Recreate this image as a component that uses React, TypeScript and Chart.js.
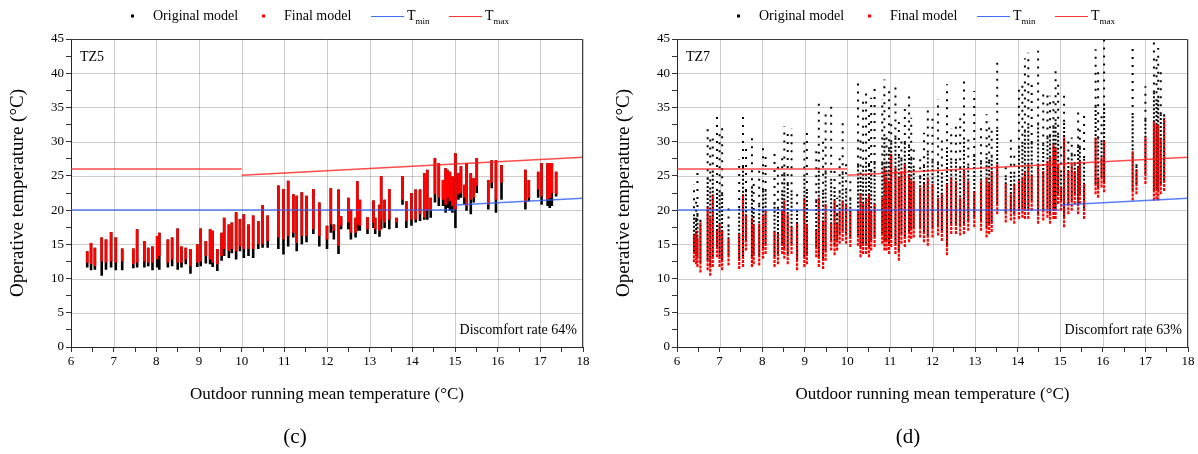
import React, { useEffect, useRef } from 'react';
import { Chart, registerables } from 'chart.js';

Chart.register(...registerables);

const FONT = '"Liberation Serif", "Times New Roman", serif';

// ---------- axes ----------
const X_TICKS = [6, 7, 8, 9, 10, 11, 12, 13, 14, 15, 16, 17, 18];
const Y_TICKS = [0, 5, 10, 15, 20, 25, 30, 35, 40, 45];

// ---------- comfort limits ----------
const TMAX_X = [6, 10, 10, 10, 18];
const TMAX_Y = [26, 26, null, 25.1, 27.74];
const TMIN_X = [6, 15, 15, 15, 18];
const TMIN_Y = [20, 20, null, 20.75, 21.74];

// ---------- TZ5 (c) : columns of hourly operative temperature ----------
const TZ5_X = [6.38, 6.47, 6.56, 6.72, 6.82, 6.94, 7.05, 7.2, 7.46, 7.55, 7.72, 7.81, 7.91, 8.02, 8.07, 8.27, 8.37, 8.5, 8.59, 8.69, 8.8, 8.96, 9.04, 9.16, 9.26, 9.32, 9.43, 9.53, 9.59, 9.7, 9.77, 9.87, 9.96, 10.05, 10.16, 10.27, 10.39, 10.49, 10.61, 10.86, 10.98, 11.09, 11.21, 11.29, 11.41, 11.52, 11.68, 11.82, 12.0, 12.09, 12.16, 12.27, 12.33, 12.5, 12.56, 12.67, 12.71, 12.77, 12.95, 13.09, 13.13, 13.23, 13.27, 13.35, 13.46, 13.63, 13.77, 13.86, 13.98, 14.08, 14.18, 14.28, 14.35, 14.43, 14.53, 14.62, 14.72, 14.78, 14.82, 14.88, 14.94, 15.01, 15.08, 15.14, 15.22, 15.27, 15.37, 15.44, 15.51, 15.78, 15.86, 15.96, 16.09, 16.65, 16.73, 16.95, 17.03, 17.17, 17.22, 17.27, 17.37];
const TZ5_FINAL_HI = [14.0, 15.2, 14.5, 16.0, 15.7, 16.8, 16.0, 14.4, 14.4, 17.2, 15.5, 14.5, 14.7, 16.2, 16.7, 15.7, 16.0, 17.3, 14.7, 14.5, 14.3, 15.0, 17.3, 15.5, 17.2, 17.0, 14.3, 16.7, 18.9, 17.9, 18.2, 19.7, 18.7, 19.4, 17.9, 19.2, 18.4, 20.7, 19.2, 23.6, 23.1, 24.3, 22.3, 22.1, 22.6, 22.1, 23.1, 21.1, 17.7, 23.2, 17.9, 23.0, 19.1, 21.8, 20.1, 18.9, 24.2, 21.5, 19.0, 21.4, 18.9, 20.8, 25.0, 21.5, 23.1, 18.9, 25.0, 21.3, 22.5, 23.0, 23.0, 25.4, 25.9, 21.8, 27.6, 26.9, 24.4, 26.1, 25.9, 25.6, 24.9, 28.3, 25.4, 26.4, 23.7, 26.9, 25.4, 24.7, 27.6, 24.4, 27.3, 27.3, 26.6, 25.9, 24.4, 25.6, 26.9, 26.9, 26.9, 26.9, 25.6];
const TZ5_FINAL_LO = [12.3, 12.1, 11.8, 12.5, 12.3, 12.5, 12.3, 12.5, 12.1, 12.3, 12.5, 12.3, 12.3, 12.8, 13.3, 12.3, 12.8, 12.3, 12.3, 12.8, 11.8, 12.3, 12.5, 13.3, 12.8, 12.3, 12.1, 13.3, 14.3, 14.0, 14.3, 14.0, 14.7, 14.3, 14.3, 14.3, 15.0, 15.0, 15.5, 16.0, 15.7, 16.2, 16.7, 15.2, 16.2, 16.2, 17.2, 16.2, 15.7, 17.9, 17.0, 14.8, 17.7, 18.2, 16.7, 16.7, 17.9, 17.7, 17.2, 18.2, 17.2, 17.0, 18.6, 18.2, 18.6, 18.2, 21.5, 18.4, 18.6, 18.6, 19.4, 18.9, 19.9, 19.9, 22.3, 21.8, 21.5, 20.8, 21.8, 21.3, 20.6, 20.1, 22.3, 22.5, 21.8, 20.6, 21.5, 21.8, 23.5, 20.8, 24.0, 21.5, 24.0, 21.1, 21.8, 23.0, 22.0, 21.5, 21.8, 22.5, 22.3];
const TZ5_ORIG_LO = [11.6, 11.2, 11.3, 10.4, 11.3, 11.6, 11.2, 11.2, 11.5, 11.6, 11.6, 11.8, 11.2, 11.6, 11.3, 11.6, 11.8, 11.3, 11.6, 12.1, 10.7, 11.7, 11.8, 12.2, 12.1, 11.7, 11.1, 12.6, 13.3, 13.0, 13.7, 12.8, 14.0, 13.0, 13.3, 13.0, 14.3, 14.5, 14.5, 14.3, 13.5, 14.7, 16.0, 14.0, 15.0, 15.3, 16.5, 14.7, 14.3, 16.7, 15.7, 13.6, 17.2, 17.2, 15.7, 16.0, 17.0, 17.0, 16.5, 17.4, 16.5, 16.1, 17.2, 17.4, 17.2, 17.4, 20.8, 17.4, 17.7, 18.2, 18.4, 18.6, 18.6, 18.9, 21.1, 20.6, 20.6, 19.6, 20.3, 19.9, 19.6, 17.4, 21.5, 21.8, 20.8, 19.9, 19.4, 21.1, 22.5, 20.1, 23.2, 19.6, 21.5, 20.1, 21.3, 21.8, 20.8, 20.6, 20.3, 20.6, 22.0];

// ---------- TZ7 (d) ----------
const TZ7_X = [6.40, 6.45, 6.48, 6.55, 6.72, 6.78, 6.84, 6.94, 7.00, 7.06, 7.21, 7.46, 7.55, 7.62, 7.76, 7.80, 7.93, 8.02, 8.08, 8.29, 8.37, 8.47, 8.52, 8.60, 8.69, 8.82, 8.99, 9.05, 9.27, 9.33, 9.43, 9.49, 9.62, 9.70, 9.76, 9.82, 9.89, 9.97, 10.07, 10.25, 10.31, 10.37, 10.44, 10.51, 10.56, 10.64, 10.82, 10.87, 10.92, 10.98, 11.03, 11.13, 11.21, 11.27, 11.35, 11.45, 11.50, 11.56, 11.71, 11.80, 11.89, 12.00, 12.13, 12.22, 12.34, 12.44, 12.55, 12.65, 12.74, 12.84, 12.98, 13.14, 13.27, 13.33, 13.39, 13.52, 13.72, 13.84, 13.92, 14.03, 14.11, 14.17, 14.25, 14.33, 14.48, 14.60, 14.70, 14.76, 14.84, 14.89, 14.95, 15.02, 15.09, 15.19, 15.27, 15.34, 15.42, 15.46, 15.56, 15.83, 15.89, 15.97, 16.03, 16.70, 16.79, 17.00, 17.20, 17.26, 17.30, 17.36, 17.44];
const TZ7_FINAL_LO = [12.4, 12.1, 11.7, 10.9, 11.2, 10.4, 11.7, 13.1, 11.7, 11.2, 11.9, 11.4, 11.7, 14.1, 11.7, 12.1, 11.9, 12.9, 13.6, 11.7, 12.1, 13.6, 12.9, 12.1, 13.6, 11.2, 11.7, 12.1, 13.1, 11.7, 11.4, 12.6, 14.1, 13.4, 14.1, 15.1, 15.5, 15.1, 14.6, 14.8, 13.1, 13.6, 13.6, 13.1, 14.1, 14.6, 15.1, 14.1, 14.1, 13.6, 14.6, 13.6, 12.6, 15.1, 14.6, 15.3, 15.8, 16.0, 16.0, 15.3, 14.8, 16.0, 16.3, 15.5, 13.4, 16.5, 16.5, 16.3, 16.5, 17.0, 17.5, 17.0, 16.0, 16.5, 16.8, 19.4, 18.2, 18.5, 18.0, 18.7, 18.9, 18.7, 18.7, 19.9, 18.0, 18.5, 18.9, 18.0, 18.7, 18.7, 20.9, 19.9, 17.5, 19.4, 19.9, 20.9, 19.4, 20.9, 18.7, 22.3, 21.8, 23.3, 22.6, 21.4, 22.3, 23.8, 21.4, 21.6, 21.4, 22.3, 22.8];
const TZ7_FINAL_HI = [16.5, 17.0, 16.0, 18.2, 20.4, 18.9, 22.3, 17.0, 18.0, 17.0, 15.8, 16.5, 22.3, 19.4, 18.9, 18.0, 18.0, 19.4, 19.9, 17.0, 16.5, 19.9, 21.4, 19.4, 17.5, 18.0, 21.8, 18.0, 17.0, 21.8, 18.5, 20.9, 18.0, 21.4, 18.0, 19.9, 21.4, 20.9, 19.9, 19.9, 22.3, 20.9, 21.8, 22.3, 19.9, 20.9, 21.8, 26.2, 24.8, 24.3, 28.2, 26.2, 24.8, 25.7, 26.7, 25.2, 24.3, 24.3, 23.3, 23.8, 24.8, 23.8, 21.8, 22.3, 23.8, 24.8, 24.3, 21.8, 25.7, 24.3, 22.8, 24.3, 24.8, 23.8, 25.7, 26.7, 23.8, 22.3, 23.8, 24.3, 24.8, 25.7, 26.7, 25.2, 26.7, 25.7, 27.2, 27.7, 29.6, 29.1, 26.7, 23.3, 30.6, 25.7, 26.7, 25.7, 26.2, 27.2, 23.8, 30.6, 24.8, 27.7, 30.1, 28.6, 26.0, 30.6, 33.0, 32.5, 32.5, 30.6, 33.5];
const TZ7_ORIG_LO = [13.9, 13.6, 13.2, 12.4, 12.7, 11.9, 13.2, 14.6, 13.2, 12.7, 13.4, 12.9, 13.2, 15.6, 13.2, 13.6, 13.4, 14.4, 15.1, 13.2, 13.6, 15.1, 14.4, 13.6, 15.1, 12.7, 13.2, 13.6, 14.6, 13.2, 12.9, 14.1, 15.6, 14.9, 15.6, 16.6, 17.0, 16.6, 16.1, 16.3, 14.6, 15.1, 15.1, 14.6, 15.6, 16.1, 16.6, 15.6, 15.6, 15.1, 16.1, 15.1, 14.1, 16.6, 16.1, 16.8, 17.3, 17.5, 17.5, 16.8, 16.3, 17.5, 17.8, 17.0, 14.9, 18.0, 18.0, 17.8, 18.0, 18.5, 19.0, 18.5, 17.5, 18.0, 18.3, 20.9, 19.7, 20.0, 19.5, 20.2, 20.4, 20.2, 20.2, 21.4, 19.5, 20.0, 20.4, 19.5, 20.2, 20.2, 22.4, 21.4, 19.0, 20.9, 21.4, 22.4, 20.9, 22.4, 20.2, 23.8, 23.3, 24.8, 24.1, 22.9, 23.8, 25.3, 22.9, 23.1, 22.9, 23.8, 24.3];
const TZ7_ORIG_DENSE = [19.1, 18.6, 19.3, 18.4, 24.5, 23.0, 25.5, 22.8, 22.6, 22.3, 17.6, 20.3, 26.3, 22.8, 23.2, 20.0, 20.8, 22.9, 22.8, 20.9, 20.2, 22.6, 25.2, 23.8, 22.6, 19.7, 24.9, 22.8, 21.3, 25.9, 22.7, 25.5, 24.3, 23.1, 19.3, 22.6, 25.4, 22.9, 21.6, 26.5, 25.2, 26.2, 27.4, 26.6, 25.7, 26.9, 26.8, 30.8, 26.8, 28.9, 29.9, 30.6, 27.9, 27.4, 29.8, 29.3, 27.5, 26.2, 24.8, 26.4, 28.4, 27.2, 26.8, 25.2, 28.9, 27.3, 27.2, 26.1, 30.3, 26.5, 27.9, 27.0, 28.0, 27.1, 27.8, 31.9, 24.8, 25.3, 25.3, 29.1, 29.7, 31.5, 32.4, 29.8, 32.5, 29.6, 30.6, 30.8, 32.1, 33.0, 31.0, 25.5, 32.9, 27.4, 28.1, 26.7, 29.3, 29.1, 27.6, 35.1, 30.5, 29.9, 35.3, 33.9, 26.4, 33.2, 37.2, 35.9, 36.4, 34.0, 33.7];
const TZ7_ORIG_TOP = [23.8, 21.6, 25.5, 18.6, 32.0, 30.6, 31.3, 33.7, 31.1, 32.3, 20.9, 27.4, 33.7, 29.1, 31.1, 23.8, 26.0, 29.4, 28.2, 28.2, 27.2, 27.7, 32.3, 32.0, 32.0, 22.8, 30.6, 31.8, 29.4, 35.7, 30.6, 34.0, 35.9, 26.2, 21.8, 27.7, 32.8, 26.7, 24.8, 38.6, 30.6, 35.9, 37.9, 34.7, 36.4, 37.9, 36.2, 39.1, 30.6, 37.6, 33.0, 38.8, 33.7, 30.6, 35.4, 36.9, 33.5, 29.6, 27.7, 31.3, 35.2, 33.5, 36.2, 30.6, 38.4, 32.0, 32.5, 34.0, 38.8, 30.6, 37.4, 32.0, 34.0, 33.0, 31.6, 41.7, 26.7, 30.8, 28.2, 37.9, 38.8, 42.2, 43.0, 38.4, 43.3, 36.9, 36.9, 36.7, 36.7, 40.3, 39.1, 29.6, 37.1, 30.6, 30.6, 28.6, 35.0, 32.5, 34.5, 43.5, 41.0, 34.0, 44.9, 43.9, 27.2, 38.1, 44.9, 42.2, 43.7, 40.3, 34.0];

// ---------- helpers ----------
function columns(xs: number[], lo: number[], hi: number[]) {
  const pts: any[] = [];
  xs.forEach((x, i) => {
    pts.push({ x, y: lo[i] }, { x, y: hi[i] }, { x, y: null });
  });
  return pts;
}
function pairs(xs: number[], ys: (number | null)[]) {
  return xs.map((x, i) => ({ x, y: ys[i] }));
}

function limitDatasets() {
  return [
    {
      label: 'Tmin', data: pairs(TMIN_X, TMIN_Y), borderColor: 'rgba(45,95,240,0.8)',
      borderWidth: 1.5, pointRadius: 0, spanGaps: false, order: 0,
    },
    {
      label: 'Tmax', data: pairs(TMAX_X, TMAX_Y), borderColor: 'rgba(255,30,30,0.8)',
      borderWidth: 1.5, pointRadius: 0, spanGaps: false, order: 0,
    },
  ];
}

function tz5Datasets() {
  return [
    ...limitDatasets(),
    {
      label: 'Final model', data: columns(TZ5_X, TZ5_FINAL_LO, TZ5_FINAL_HI), borderColor: '#ff0000',
      borderWidth: 2.6, pointRadius: 0, spanGaps: false, order: 1, borderCapStyle: 'butt',
    },
    {
      label: 'Original model', data: columns(TZ5_X, TZ5_ORIG_LO, TZ5_FINAL_HI), borderColor: '#000000',
      borderWidth: 2.6, pointRadius: 0, spanGaps: false, order: 2, borderCapStyle: 'butt',
    },
  ];
}

function tz7Datasets() {
  return [
    ...limitDatasets(),
    {
      label: 'Final model', data: columns(TZ7_X, TZ7_FINAL_LO, TZ7_FINAL_HI), borderColor: '#ff0000',
      borderWidth: 2.2, borderDash: [3, 1], pointRadius: 0, spanGaps: false, order: 1, borderCapStyle: 'butt',
    },
    {
      label: 'Original model', data: columns(TZ7_X, TZ7_ORIG_LO, TZ7_ORIG_DENSE), borderColor: '#000000',
      borderWidth: 2, borderDash: [2, 2], pointRadius: 0, spanGaps: false, order: 2, borderCapStyle: 'butt',
    },
    {
      label: 'Original model (upper)', data: columns(TZ7_X, TZ7_ORIG_DENSE, TZ7_ORIG_TOP), borderColor: '#000000',
      borderWidth: 2, borderDash: [2, 6], pointRadius: 0, spanGaps: false, order: 2, borderCapStyle: 'butt',
    },
  ];
}

// ---------- major grid (only at labelled ticks) ----------
const gridPlugin = {
  id: 'majorGrid',
  beforeDatasetsDraw(chart: any) {
    const { ctx, chartArea: a, scales } = chart;
    ctx.save();
    ctx.strokeStyle = 'rgba(0,0,0,0.2)';
    ctx.lineWidth = 1;
    ctx.beginPath();
    X_TICKS.forEach((v) => {
      const px = Math.round(scales.x.getPixelForValue(v)) + 0.5;
      ctx.moveTo(px, a.top);
      ctx.lineTo(px, a.bottom);
    });
    Y_TICKS.forEach((v) => {
      const py = Math.round(scales.y.getPixelForValue(v)) + 0.5;
      ctx.moveTo(a.left, py);
      ctx.lineTo(a.right, py);
    });
    ctx.stroke();
    ctx.restore();
  },
};

// ---------- decoration plugin (frame, legend, labels) ----------
const decorPlugin = {
  id: 'decor',
  afterDraw(chart: any, _args: any, opts: any) {
    const { ctx, chartArea: a } = chart;
    ctx.save();
    // frame top/right
    ctx.strokeStyle = '#3c3c3c';
    ctx.lineWidth = 1;
    ctx.beginPath();
    ctx.moveTo(a.left, a.top + 0.5);
    ctx.lineTo(a.right - 0.5, a.top + 0.5);
    ctx.lineTo(a.right - 0.5, a.bottom);
    ctx.stroke();

    // legend
    const ly = 16;
    const L = a.left;
    ctx.textBaseline = 'middle';
    ctx.textAlign = 'left';
    ctx.fillStyle = '#000';
    ctx.fillRect(L + 60, ly - 1.5, 3, 3);
    ctx.font = `14px ${FONT}`;
    ctx.fillText('Original model', L + 82, ly);
    ctx.fillStyle = '#ff0000';
    ctx.fillRect(L + 191, ly - 1.5, 3, 3);
    ctx.fillStyle = '#000';
    ctx.fillText('Final model', L + 213, ly);
    ctx.strokeStyle = 'rgba(45,95,240,0.9)';
    ctx.lineWidth = 1.2;
    ctx.beginPath();
    ctx.moveTo(L + 300, ly + 0.5);
    ctx.lineTo(L + 333, ly + 0.5);
    ctx.stroke();
    const drawT = (x: number, sub: string) => {
      ctx.fillStyle = '#000';
      ctx.font = `14px ${FONT}`;
      ctx.fillText('T', x, ly);
      const w = ctx.measureText('T').width;
      ctx.font = `9px ${FONT}`;
      ctx.fillText(sub, x + w, ly + 6);
    };
    drawT(L + 336, 'min');
    ctx.strokeStyle = 'rgba(255,30,30,0.9)';
    ctx.beginPath();
    ctx.moveTo(L + 378, ly + 0.5);
    ctx.lineTo(L + 411, ly + 0.5);
    ctx.stroke();
    drawT(L + 414, 'max');

    // zone label
    ctx.fillStyle = '#000';
    ctx.font = `14px ${FONT}`;
    ctx.textAlign = 'left';
    ctx.fillText(opts.zone, a.left + 9, a.top + 18);
    // discomfort rate
    ctx.textAlign = 'right';
    ctx.fillText(opts.rate, a.right - 6, a.bottom - 17);
    // sub-figure label
    ctx.textAlign = 'center';
    ctx.font = `21px ${FONT}`;
    ctx.fillText(opts.label, a.left + opts.labelDx, 437);
    ctx.restore();
  },
};

function makeOptions(decor: any, rightPad: number) {
  return {
    responsive: false,
    animation: false,
    events: [],
    layout: { padding: { top: 39, right: rightPad, bottom: 0, left: 0 } },
    plugins: {
      legend: { display: false },
      tooltip: { enabled: false },
      decor,
    },
    scales: {
      x: {
        type: 'linear',
        min: 6,
        max: 18,
        afterFit: (s: any) => { s.height = 107; },
        ticks: {
          stepSize: 0.5,
          autoSkip: false,
          maxRotation: 0,
          padding: 2,
          color: '#000',
          font: { family: FONT, size: 13 },
          callback: (v: number) => (X_TICKS.includes(v) ? String(v) : ''),
        },
        grid: {
          drawOnChartArea: false,
          drawTicks: true,
          color: '#333',
          tickColor: '#333',
          tickLength: 5,
          lineWidth: 1,
        },
        border: { color: '#333', width: 1 },
        title: {
          display: true,
          text: 'Outdoor running mean temperature (°C)',
          color: '#000',
          font: { family: FONT, size: 17 },
          padding: { top: 0, bottom: 49 },
        },
      },
      y: {
        type: 'linear',
        min: 0,
        max: 45,
        afterFit: (s: any) => { s.width = 71; },
        ticks: {
          stepSize: 2.5,
          autoSkip: false,
          padding: 2,
          color: '#000',
          font: { family: FONT, size: 13 },
          callback: (v: number) => (Y_TICKS.includes(v) ? String(v) : ''),
        },
        grid: {
          drawOnChartArea: false,
          drawTicks: true,
          color: '#333',
          tickColor: '#333',
          tickLength: 5,
          lineWidth: 1,
        },
        border: { color: '#333', width: 1 },
        title: {
          display: true,
          text: 'Operative temperature (°C)',
          color: '#000',
          font: { family: FONT, size: 19 },
          padding: { top: 7, bottom: 0 },
        },
      },
    },
  };
}

function Panel(props: { left: number; width: number; rightPad: number; datasets: any[]; decor: any }) {
  const ref = useRef<HTMLCanvasElement | null>(null);
  useEffect(() => {
    if (!ref.current) return;
    const chart = new Chart(ref.current, {
      type: 'line',
      data: { datasets: props.datasets },
      options: makeOptions(props.decor, props.rightPad) as any,
      plugins: [gridPlugin, decorPlugin],
    } as any);
    return () => chart.destroy();
  }, []);
  return (
    <canvas
      ref={ref}
      width={props.width}
      height={454}
      style={{ position: 'absolute', left: props.left, top: 0, width: props.width, height: 454 }}
    />
  );
}

export default function App() {
  useEffect(() => {
    document.body.style.margin = '0';
    document.body.style.background = '#ffffff';
  }, []);
  return (
    <div style={{ position: 'relative', width: 1198, height: 454, background: '#fff', overflow: 'hidden' }}>
      <Panel
        left={0}
        width={599}
        rightPad={16}
        datasets={tz5Datasets()}
        decor={{ zone: 'TZ5', rate: 'Discomfort rate 64%', label: '(c)', labelDx: 224 }}
      />
      <Panel
        left={606}
        width={592}
        rightPad={10}
        datasets={tz7Datasets()}
        decor={{ zone: 'TZ7', rate: 'Discomfort rate 63%', label: '(d)', labelDx: 231 }}
      />
    </div>
  );
}
